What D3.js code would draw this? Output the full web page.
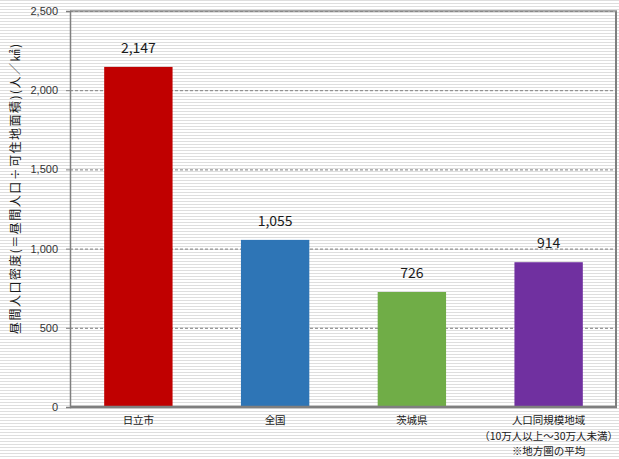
<!DOCTYPE html>
<html><head><meta charset="utf-8">
<script src="https://cdn.jsdelivr.net/npm/d3@7"></script>
<style>
html,body{margin:0;padding:0;background:#fff;}
svg{display:block;}
text{font-family:"Noto Sans CJK JP","Noto Sans",sans-serif;}
</style></head><body>
<svg id="c" width="619" height="459"></svg>
<script>
const categories = ["日立市", "全国", "茨城県", "人口同規模地域"];
const subLabels = [[], [], [], ["（10万人以上～30万人未満）", "※地方圏の平均"]];
const values = [2147, 1055, 726, 914];
const colors = ["#c00000", "#2e75b6", "#70ad47", "#7030a0"];
const yTicks = [0, 500, 1000, 1500, 2000, 2500];
const yTitle = "昼間人口密度(＝昼間人口÷可住地面積)(人／㎢)";

const W = 619, H = 459;
const m = {left: 70, right: 2, top: 11, bottom: 52};
const svg = d3.select("#c");

const defs = svg.append("defs");
const pat = defs.append("pattern").attr("id","stripe").attr("patternUnits","userSpaceOnUse")
  .attr("width", 8).attr("height", 3);
pat.append("rect").attr("width",8).attr("height",3).attr("fill","#fff");
pat.append("rect").attr("y",0).attr("width",8).attr("height",1).attr("fill","#dedede");
svg.append("rect").attr("width",W).attr("height",H).attr("fill","url(#stripe)");

const x = d3.scaleBand().domain(categories).range([m.left, W - m.right]).paddingInner(0.5).paddingOuter(0.25);
const y = d3.scaleLinear().domain([0, 2500]).range([H - m.bottom, m.top]);

// gridlines
svg.append("g").selectAll("line").data(yTicks.filter(d => d > 0)).join("line")
  .attr("x1", m.left).attr("x2", W - m.right)
  .attr("y1", d => y(d)+0.5).attr("y2", d => y(d)+0.5)
  .attr("stroke", "#7f7f7f").attr("stroke-width", 1).attr("stroke-dasharray", "3,2");

// frame right/top
svg.append("line").attr("x1", W - m.right - 1).attr("x2", W - m.right - 1).attr("y1", m.top).attr("y2", y(0))
  .attr("stroke", "#7f7f7f").attr("stroke-width", 2);
svg.append("line").attr("x1", m.left).attr("x2", W - m.right).attr("y1", m.top).attr("y2", m.top)
  .attr("stroke", "#8c8c8c").attr("stroke-width", 1.5);

// bars
svg.append("g").selectAll("rect").data(values).join("rect")
  .attr("x", (d,i) => x(categories[i])).attr("width", x.bandwidth())
  .attr("y", d => y(d)).attr("height", d => y(0) - y(d))
  .attr("fill", (d,i) => colors[i]);

// value labels
svg.append("g").selectAll("text").data(values).join("text")
  .attr("x", (d,i) => x(categories[i]) + x.bandwidth()/2)
  .attr("y", d => y(d) - 14)
  .attr("text-anchor","middle").attr("font-size", 14).attr("fill","#1a1a1a")
  .text(d => d3.format(",")(d));

// y axis
const yAxis = d3.axisLeft(y).tickValues(yTicks).tickFormat(d3.format(",")).tickSize(4).tickPadding(8);
const ya = svg.append("g").attr("transform", `translate(${m.left},0)`).call(yAxis);
ya.select(".domain").attr("stroke", "#7f7f7f").attr("stroke-width", 1.5);
ya.selectAll(".tick line").attr("stroke", "#7f7f7f");
ya.selectAll(".tick text").attr("font-size", 11).attr("fill", "#333")
  .style("font-family", "'Liberation Sans', Arial, sans-serif");

// x axis
const xAxis = d3.axisBottom(x).tickSize(0).tickPadding(10);
const xa = svg.append("g").attr("transform", `translate(0,${y(0)})`).call(xAxis);
xa.select(".domain").attr("stroke", "#7f7f7f").attr("stroke-width", 2.5).attr("d", `M${m.left},0H${W - m.right}`);
xa.selectAll(".tick text").attr("font-size", 10.5).attr("fill", "#1a1a1a")
  .each(function(d, i) {
    const t = d3.select(this);
    subLabels[i].forEach((s) => {
      t.append("tspan").attr("x", 0).attr("dy", "1.45em").text(s);
    });
  });

// y title
svg.append("text")
  .attr("transform", `translate(20,${(m.top + y(0))/2 - 20}) rotate(-90)`)
  .attr("text-anchor", "middle").attr("font-size", 12).attr("fill", "#1a1a1a")
  .attr("textLength", 290).attr("lengthAdjust", "spacing")
  .text(yTitle);
</script>
</body></html>
